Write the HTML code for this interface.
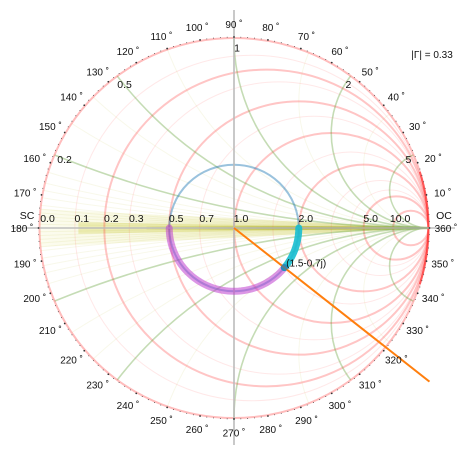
<!DOCTYPE html>
<html><head><meta charset="utf-8"><style>
html,body{margin:0;padding:0;background:#fff;overflow:hidden;width:467px;height:456px}
svg{display:block;position:absolute;left:0;top:0;font-family:"Liberation Sans","DejaVu Sans",sans-serif}
</style></head><body>
<svg id="chart" width="467" height="456" viewBox="0 0 467 456" xmlns="http://www.w3.org/2000/svg">
<defs><clipPath id="uc"><ellipse cx="0" cy="0" rx="1" ry="1"/></clipPath>
<linearGradient id="wg" x1="0" y1="0" x2="1" y2="0"><stop offset="0" stop-color="#f4f4c8" stop-opacity="0.3"/><stop offset="1" stop-color="#d8d870" stop-opacity="0.6"/></linearGradient>
<linearGradient id="bg" x1="0" y1="0" x2="1" y2="0"><stop offset="0" stop-color="#b0b020" stop-opacity="0.1"/><stop offset="0.5" stop-color="#9a9a10" stop-opacity="0.7"/><stop offset="1" stop-color="#808000" stop-opacity="0.95"/></linearGradient>
</defs>
<g id="plot" transform="translate(234,228) scale(194.5,-190)"></g>
<line x1="12" y1="228" x2="455" y2="228" stroke="#bbb" stroke-width="2" stroke-opacity="0.7"/>
<line x1="234" y1="10" x2="234" y2="445" stroke="#bbb" stroke-width="2" stroke-opacity="0.8"/>
<g id="labels"></g>
</svg>
<script>
const rMajor=[0.2,0.5,1,2,5,10];
const xMajor=[0.2,0.5,1,2,5];
const rFine=[0.1,0.3,0.7,1.5,3,4];
const xFine=[0.01,0.02,0.03,0.04,0.05,0.06,0.08,0.1,0.12,0.15,0.3,0.4,0.7,1.5,3];
const rAxisLabels=["0.0","0.1","0.2","0.3","0.5","0.7","1.0","2.0","5.0","10.0"];
const rAxisValues=[0,0.1,0.2,0.3,0.5,0.7,1,2,5,10];
const xArcLabels=["0.2","0.5","1","2","5"];
const xArcValues=[0.2,0.5,1,2,5];
const angleLabels=[0,10,20,30,40,50,60,70,80,90,100,110,120,130,140,150,160,170,180,190,200,210,220,230,240,250,260,270,280,290,300,310,320,330,340,350];
const gammaMag=[0.333];
const zPoint=[1.5,-0.7];
const purpleSweep=[180,321.2];
const cyanSweep=[360,321.2];
const lineLength=[1.29];

const NS="http://www.w3.org/2000/svg";
const CX=234,CY=228,RX=194.5,RY=190;
const px=u=>CX+RX*u, py=v=>CY-RY*v;
const plot=document.getElementById('plot'), labels=document.getElementById('labels');
function mk(tag,attrs,parent){const e=document.createElementNS(NS,tag);for(const k in attrs)e.setAttribute(k,attrs[k]);parent.appendChild(e);return e;}
const clipG=mk('g',{'clip-path':'url(#uc)'},plot);
function circ(cx,cy,r,stroke,w,op,name){
  const c=mk('circle',{cx:cx,cy:cy,r:r,fill:'none',stroke:stroke,'stroke-width':w,'stroke-opacity':op,'vector-effect':'non-scaling-stroke'},clipG);
  
  
}
const w1=mk('path',{d:'M-1 0.1 L1 0 L-1 -0.1 Z',fill:'url(#wg)'},clipG);

const w2=mk('path',{d:'M-0.8 0.03 L1 0 L-0.8 -0.03 Z',fill:'#d0d050','fill-opacity':0.35},clipG);

const w3=mk('path',{d:'M-0.45 0.01 L1 0.006 L1 -0.006 L-0.45 -0.01 Z',fill:'url(#bg)'},clipG);

xFine.forEach(x=>{[1,-1].forEach(s=>{circ(1,s/x,1/x,'#b8b830',1,0.1,'fine-reactance-arc');});});
rFine.forEach(r=>circ(r/(1+r),0,1/(1+r),'#ff5050',1,0.13,'fine-resistance-circle'));
rMajor.forEach(r=>circ(r/(1+r),0,1/(1+r),'#ff4040',2,0.3,'resistance-circle'));
xMajor.forEach(x=>{[1,-1].forEach(s=>circ(1,s/x,1/x,'#5a9a2a',1.6,0.35,'reactance-arc'));});
const oc=mk('ellipse',{cx:0,cy:0,rx:1,ry:1,fill:'none',stroke:'#ff4040','stroke-width':2,'stroke-opacity':0.35,'vector-effect':'non-scaling-stroke'},plot);

const ocr=mk('path',{d:'M'+Math.cos(0.3)+' '+Math.sin(0.3)+' A1 1 0 0 0 '+Math.cos(0.3)+' '+(-Math.sin(0.3)),fill:'none',stroke:'#ff3030','stroke-width':2,'stroke-opacity':0.7,'vector-effect':'non-scaling-stroke'},plot);

const g=gammaMag[0];
const bc=mk('ellipse',{cx:0,cy:0,rx:g,ry:g,fill:'none',stroke:'#1f77b4','stroke-width':2,'stroke-opacity':0.45,'vector-effect':'non-scaling-stroke'},plot);

function arc(a0,a1,r){const p=[];const n=60;for(let i=0;i<=n;i++){const a=(a0+(a1-a0)*i/n)*Math.PI/180;p.push((i?'L':'M')+px(r*Math.cos(a)).toFixed(2)+' '+py(r*Math.sin(a)).toFixed(2));}return p.join(' ');}
const pa=mk('path',{d:arc(purpleSweep[0],purpleSweep[1],g),fill:'none',stroke:'#c040d0','stroke-width':7,'stroke-opacity':0.55,'stroke-linecap':'round'},labels);

const ca=mk('path',{d:arc(cyanSweep[0],cyanSweep[1],g),fill:'none',stroke:'#17becf','stroke-width':7,'stroke-opacity':0.9,'stroke-linecap':'round'},labels);

const zr=zPoint[0],zi=zPoint[1];
const den=(zr+1)*(zr+1)+zi*zi;
const gr=((zr-1)*(zr+1)+zi*zi)/den, gi=(zi*(zr+1)-(zr-1)*zi)/den;
const gang=Math.atan2(gi,gr), L=lineLength[0];
const ol=mk('line',{x1:px(0),y1:py(0),x2:px(L*Math.cos(gang)),y2:py(L*Math.sin(gang)),stroke:'#ff7f0e','stroke-width':2},labels);

const pt=mk('circle',{cx:px(gr),cy:py(gi),r:3.5,fill:'#1f77b4','fill-opacity':0.7},labels);

function txt(s,x,y,anchor,name,size){const t=mk('text',{x:x,y:y,'text-anchor':anchor||'middle','font-size':size||10,fill:'#111'},labels);t.textContent=s;return t;}
txt('(1.5-0.7j)',px(gr)+2,py(gi)-1,'start','point-label',10);
for(let a=0;a<360;a+=2){const t=a*Math.PI/180;const big=a%10===0;const d=mk('circle',{cx:px(1.005*Math.cos(t)),cy:py(1.005*Math.sin(t)),r:big?0.9:0.45,fill:'#333'},labels);}
angleLabels.forEach(a=>{const t=a*Math.PI/180;const s=(a===0?'360':a)+' ˚';txt(s,px(1.09*Math.cos(t)),py(1.075*Math.sin(t))+4,'middle','angle-label',10);});
rAxisValues.forEach((r,i)=>{const u=(r-1)/(r+1);txt(rAxisLabels[i],px(u)+(r===0?8:7),222,'middle','resistance-label',10.5);});
xArcValues.forEach((x,i)=>{const gx=(x*x-1)/(x*x+1),gy=2*x/(x*x+1);const ang=Math.atan2(gy,gx);const rr=0.955;txt(xArcLabels[i],px(rr*Math.cos(ang))+(x>=1?3:2),py(rr*Math.sin(ang))+5,'middle','reactance-label',10.5);});
txt('SC',27,219,'middle','sc-label',10.5);
txt('OC',444,219,'middle','oc-label',10.5);
txt('|Γ| = 0.33',432,58,'middle','gamma-label',10);
</script>
</body></html>
